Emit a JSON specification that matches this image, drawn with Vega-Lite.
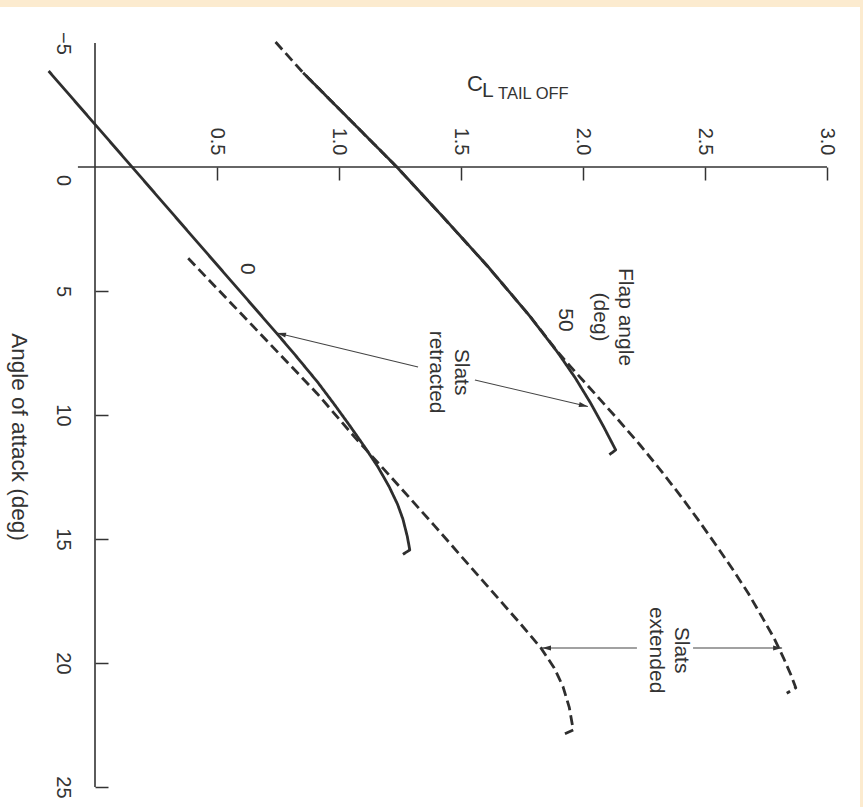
{
  "$schema": "https://vega.github.io/schema/vega-lite/v6.json",
  "width": 860,
  "height": 800,
  "autosize": "none",
  "padding": {"left": 0, "top": 7, "right": 3, "bottom": 0},
  "background": "#fcebcf",
  "config": {
    "view": {"fill": "#ffffff", "stroke": null},
    "font": "Liberation Sans"
  },
  "datasets": {
    "curves": [
      {"curve": "retracted-0", "slats": "retracted", "flap": 0, "i": 0, "alpha": -3.87, "cl": -0.19},
      {"curve": "retracted-0", "slats": "retracted", "flap": 0, "i": 1, "alpha": 0.0, "cl": 0.152},
      {"curve": "retracted-0", "slats": "retracted", "flap": 0, "i": 2, "alpha": 3.23, "cl": 0.437},
      {"curve": "retracted-0", "slats": "retracted", "flap": 0, "i": 3, "alpha": 6.71, "cl": 0.745},
      {"curve": "retracted-0", "slats": "retracted", "flap": 0, "i": 4, "alpha": 7.6, "cl": 0.822},
      {"curve": "retracted-0", "slats": "retracted", "flap": 0, "i": 5, "alpha": 8.67, "cl": 0.912},
      {"curve": "retracted-0", "slats": "retracted", "flap": 0, "i": 6, "alpha": 9.6, "cl": 0.983},
      {"curve": "retracted-0", "slats": "retracted", "flap": 0, "i": 7, "alpha": 10.47, "cl": 1.047},
      {"curve": "retracted-0", "slats": "retracted", "flap": 0, "i": 8, "alpha": 11.3, "cl": 1.106},
      {"curve": "retracted-0", "slats": "retracted", "flap": 0, "i": 9, "alpha": 12.1, "cl": 1.16},
      {"curve": "retracted-0", "slats": "retracted", "flap": 0, "i": 10, "alpha": 12.9, "cl": 1.206},
      {"curve": "retracted-0", "slats": "retracted", "flap": 0, "i": 11, "alpha": 13.6, "cl": 1.24},
      {"curve": "retracted-0", "slats": "retracted", "flap": 0, "i": 12, "alpha": 14.2, "cl": 1.262},
      {"curve": "retracted-0", "slats": "retracted", "flap": 0, "i": 13, "alpha": 14.9, "cl": 1.28},
      {"curve": "retracted-0", "slats": "retracted", "flap": 0, "i": 14, "alpha": 15.44, "cl": 1.29},
      {"curve": "retracted-0", "slats": "retracted", "flap": 0, "i": 15, "alpha": 15.62, "cl": 1.262},

      {"curve": "extended-0", "slats": "extended", "flap": 0, "i": 0, "alpha": 3.68, "cl": 0.382},
      {"curve": "extended-0", "slats": "extended", "flap": 0, "i": 1, "alpha": 6.0, "cl": 0.607},
      {"curve": "extended-0", "slats": "extended", "flap": 0, "i": 2, "alpha": 9.13, "cl": 0.91},
      {"curve": "extended-0", "slats": "extended", "flap": 0, "i": 3, "alpha": 10.9, "cl": 1.065},
      {"curve": "extended-0", "slats": "extended", "flap": 0, "i": 4, "alpha": 12.6, "cl": 1.222},
      {"curve": "extended-0", "slats": "extended", "flap": 0, "i": 5, "alpha": 14.45, "cl": 1.39},
      {"curve": "extended-0", "slats": "extended", "flap": 0, "i": 6, "alpha": 16.1, "cl": 1.537},
      {"curve": "extended-0", "slats": "extended", "flap": 0, "i": 7, "alpha": 18.4, "cl": 1.742},
      {"curve": "extended-0", "slats": "extended", "flap": 0, "i": 8, "alpha": 19.4, "cl": 1.828},
      {"curve": "extended-0", "slats": "extended", "flap": 0, "i": 9, "alpha": 20.2, "cl": 1.882},
      {"curve": "extended-0", "slats": "extended", "flap": 0, "i": 10, "alpha": 20.95, "cl": 1.918},
      {"curve": "extended-0", "slats": "extended", "flap": 0, "i": 11, "alpha": 21.8, "cl": 1.944},
      {"curve": "extended-0", "slats": "extended", "flap": 0, "i": 12, "alpha": 22.7, "cl": 1.96},
      {"curve": "extended-0", "slats": "extended", "flap": 0, "i": 13, "alpha": 22.85, "cl": 1.926},

      {"curve": "retracted-50", "slats": "retracted", "flap": 50, "i": 0, "alpha": -3.8, "cl": 0.853},
      {"curve": "retracted-50", "slats": "retracted", "flap": 50, "i": 1, "alpha": -2.0, "cl": 1.035},
      {"curve": "retracted-50", "slats": "retracted", "flap": 50, "i": 2, "alpha": 0.0, "cl": 1.237},
      {"curve": "retracted-50", "slats": "retracted", "flap": 50, "i": 3, "alpha": 2.0, "cl": 1.425},
      {"curve": "retracted-50", "slats": "retracted", "flap": 50, "i": 4, "alpha": 4.0, "cl": 1.609},
      {"curve": "retracted-50", "slats": "retracted", "flap": 50, "i": 5, "alpha": 6.0, "cl": 1.781},
      {"curve": "retracted-50", "slats": "retracted", "flap": 50, "i": 6, "alpha": 7.5, "cl": 1.898},
      {"curve": "retracted-50", "slats": "retracted", "flap": 50, "i": 7, "alpha": 8.5, "cl": 1.968},
      {"curve": "retracted-50", "slats": "retracted", "flap": 50, "i": 8, "alpha": 9.5, "cl": 2.03},
      {"curve": "retracted-50", "slats": "retracted", "flap": 50, "i": 9, "alpha": 10.5, "cl": 2.086},
      {"curve": "retracted-50", "slats": "retracted", "flap": 50, "i": 10, "alpha": 11.41, "cl": 2.134},
      {"curve": "retracted-50", "slats": "retracted", "flap": 50, "i": 11, "alpha": 11.6, "cl": 2.108},

      {"curve": "extended-50", "slats": "extended", "flap": 50, "i": 0, "alpha": -5.04, "cl": 0.74},
      {"curve": "extended-50", "slats": "extended", "flap": 50, "i": 1, "alpha": -3.8, "cl": 0.853},
      {"curve": "extended-50", "slats": "extended", "flap": 50, "i": 2, "alpha": -2.0, "cl": 1.035},
      {"curve": "extended-50", "slats": "extended", "flap": 50, "i": 3, "alpha": 0.0, "cl": 1.237},
      {"curve": "extended-50", "slats": "extended", "flap": 50, "i": 4, "alpha": 2.0, "cl": 1.425},
      {"curve": "extended-50", "slats": "extended", "flap": 50, "i": 5, "alpha": 4.0, "cl": 1.609},
      {"curve": "extended-50", "slats": "extended", "flap": 50, "i": 6, "alpha": 6.0, "cl": 1.781},
      {"curve": "extended-50", "slats": "extended", "flap": 50, "i": 7, "alpha": 7.5, "cl": 1.9},
      {"curve": "extended-50", "slats": "extended", "flap": 50, "i": 8, "alpha": 8.06, "cl": 1.95},
      {"curve": "extended-50", "slats": "extended", "flap": 50, "i": 9, "alpha": 9.1, "cl": 2.045},
      {"curve": "extended-50", "slats": "extended", "flap": 50, "i": 10, "alpha": 10.2, "cl": 2.145},
      {"curve": "extended-50", "slats": "extended", "flap": 50, "i": 11, "alpha": 11.2, "cl": 2.233},
      {"curve": "extended-50", "slats": "extended", "flap": 50, "i": 12, "alpha": 12.2, "cl": 2.316},
      {"curve": "extended-50", "slats": "extended", "flap": 50, "i": 13, "alpha": 13.2, "cl": 2.395},
      {"curve": "extended-50", "slats": "extended", "flap": 50, "i": 14, "alpha": 14.2, "cl": 2.47},
      {"curve": "extended-50", "slats": "extended", "flap": 50, "i": 15, "alpha": 15.2, "cl": 2.542},
      {"curve": "extended-50", "slats": "extended", "flap": 50, "i": 16, "alpha": 16.2, "cl": 2.612},
      {"curve": "extended-50", "slats": "extended", "flap": 50, "i": 17, "alpha": 17.2, "cl": 2.678},
      {"curve": "extended-50", "slats": "extended", "flap": 50, "i": 18, "alpha": 18.2, "cl": 2.737},
      {"curve": "extended-50", "slats": "extended", "flap": 50, "i": 19, "alpha": 19.0, "cl": 2.783},
      {"curve": "extended-50", "slats": "extended", "flap": 50, "i": 20, "alpha": 19.8, "cl": 2.822},
      {"curve": "extended-50", "slats": "extended", "flap": 50, "i": 21, "alpha": 20.5, "cl": 2.853},
      {"curve": "extended-50", "slats": "extended", "flap": 50, "i": 22, "alpha": 21.0, "cl": 2.872},
      {"curve": "extended-50", "slats": "extended", "flap": 50, "i": 23, "alpha": 21.22, "cl": 2.835}
    ],
    "frame": [
      {"cl": -0.07, "cl2": 3.0, "alpha": 0, "alpha2": 0},
      {"cl": 0, "cl2": 0, "alpha": -5, "alpha2": 25}
    ],
    "arrows": [
      {"note": "Slats retracted", "cl": 0.746, "alpha": 6.694, "cl2": 1.324, "alpha2": 8.065},
      {"note": "Slats retracted", "cl": 2.02, "alpha": 9.66, "cl2": 1.557, "alpha2": 8.589},
      {"note": "Slats extended", "cl": 2.816, "alpha": 19.395, "cl2": 2.451, "alpha2": 19.395},
      {"note": "Slats extended", "cl": 1.832, "alpha": 19.395, "cl2": 2.221, "alpha2": 19.395}
    ],
    "notes": [
      {"role": "curve", "text": "0", "cl": 0.623, "alpha": 4.11},
      {"role": "curve", "text": "50", "cl": 1.926, "alpha": 6.17},
      {"role": "note", "text": "Flap angle\n(deg)", "cl": 2.172, "alpha": 6.05},
      {"role": "note", "text": "Slats\nretracted", "cl": 1.5, "alpha": 8.27},
      {"role": "note", "text": "Slats\nextended", "cl": 2.401, "alpha": 19.48},
      {"role": "ytitle", "text": "Angle of attack (deg)", "cl": -0.3115, "alpha": 10.89},
      {"role": "c", "text": "C", "cl": 1.5246, "alpha": -3.065},
      {"role": "sub", "text": "L", "cl": 1.586, "alpha": -2.823},
      {"role": "sub2", "text": "TAIL OFF", "cl": 1.652, "alpha": -2.742}
    ]
  },
  "encoding": {
    "x": {
      "field": "cl", "type": "quantitative",
      "scale": {"domain": [-0.38934, 3.13525], "nice": false, "zero": false},
      "axis": {
        "orient": "top", "offset": -160, "values": [0.5, 1, 1.5, 2, 2.5, 3], "format": ".1f",
        "domain": false, "grid": false, "tickSize": -13, "tickColor": "#333333", "tickWidth": 1.5,
        "labelAngle": 90, "labelAlign": "right", "labelBaseline": "middle", "labelPadding": 25,
        "labelFontSize": 20, "labelColor": "#333333", "labelFont": "Liberation Sans",
        "labelOverlap": false, "labelFlush": false, "labelBound": false, "title": null
      }
    },
    "y": {
      "field": "alpha", "type": "quantitative",
      "scale": {"domain": [-6.4516, 25.8065], "nice": false, "zero": false, "reverse": true},
      "axis": {
        "orient": "left", "offset": -95, "values": [-5, 0, 5, 10, 15, 20, 25],
        "labelExpr": "datum.value < 0 ? '−' + abs(datum.value) : datum.label",
        "domain": false, "grid": false, "tickSize": -13, "tickColor": "#333333", "tickWidth": 1.5,
        "tickOpacity": {"condition": {"test": "datum.value <= 0", "value": 0}, "value": 1},
        "labelAngle": 90, "labelAlign": "center", "labelBaseline": "top", "labelPadding": 36,
        "labelOffset": {"condition": {"test": "datum.value === 0", "value": 13}, "value": 0},
        "labelFontSize": 20, "labelColor": "#333333", "labelFont": "Liberation Sans",
        "labelOverlap": false, "labelFlush": false, "labelBound": false, "title": null
      }
    }
  },
  "layer": [
    {
      "data": {"name": "frame"},
      "mark": {"type": "rule", "color": "#333333", "strokeWidth": 1.6},
      "encoding": {
        "x2": {"field": "cl2"},
        "y2": {"field": "alpha2"}
      }
    },
    {
      "data": {"name": "curves"},
      "mark": {"type": "line", "color": "#2e2e2e", "strokeWidth": 2.8, "strokeJoin": "round", "strokeCap": "butt"},
      "encoding": {
        "detail": {"field": "curve", "type": "nominal"},
        "order": {"field": "i", "type": "quantitative"},
        "strokeDash": {
          "field": "slats", "type": "nominal",
          "scale": {"domain": ["retracted", "extended"], "range": [[1, 0], [10, 5]]},
          "legend": null
        }
      }
    },
    {
      "data": {"name": "arrows"},
      "mark": {"type": "rule", "color": "#444444", "strokeWidth": 1.1},
      "encoding": {
        "x2": {"field": "cl2"},
        "y2": {"field": "alpha2"}
      }
    },
    {
      "data": {"name": "arrows"},
      "transform": [
        {"calculate": "atan2((datum.alpha - datum.alpha2) * 24.8, (datum.cl - datum.cl2) * 244) * 180 / PI", "as": "heading"}
      ],
      "mark": {"type": "point", "shape": "M0,0L-2,-0.55L-2,0.55Z", "filled": true, "size": 81, "color": "#333333", "opacity": 1, "strokeWidth": 0},
      "encoding": {
        "angle": {"field": "heading", "type": "quantitative", "scale": null}
      }
    },
    {
      "data": {"name": "notes"},
      "transform": [{"filter": "datum.role === 'curve' || datum.role === 'note'"}],
      "mark": {"type": "text", "angle": 90, "align": "center", "baseline": "middle", "fontSize": 21, "lineBreak": "\n", "lineHeight": 25, "color": "#333333", "font": "Liberation Sans"},
      "encoding": {
        "text": {"field": "text", "type": "nominal"}
      }
    },
    {
      "data": {"name": "notes"},
      "transform": [{"filter": "datum.role === 'ytitle'"}],
      "mark": {"type": "text", "angle": 90, "align": "center", "baseline": "middle", "fontSize": 22.5, "color": "#333333", "font": "Liberation Sans"},
      "encoding": {
        "text": {"field": "text", "type": "nominal"}
      }
    },
    {
      "data": {"name": "notes"},
      "transform": [{"filter": "datum.role === 'c'"}],
      "mark": {"type": "text", "align": "left", "baseline": "alphabetic", "fontSize": 22, "color": "#333333", "font": "Liberation Sans"},
      "encoding": {
        "text": {"field": "text", "type": "nominal"}
      }
    },
    {
      "data": {"name": "notes"},
      "transform": [{"filter": "datum.role === 'sub'"}],
      "mark": {"type": "text", "align": "left", "baseline": "alphabetic", "fontSize": 21, "color": "#333333", "font": "Liberation Sans"},
      "encoding": {
        "text": {"field": "text", "type": "nominal"}
      }
    },
    {
      "data": {"name": "notes"},
      "transform": [{"filter": "datum.role === 'sub2'"}],
      "mark": {"type": "text", "align": "left", "baseline": "alphabetic", "fontSize": 16.5, "color": "#333333", "font": "Liberation Sans"},
      "encoding": {
        "text": {"field": "text", "type": "nominal"}
      }
    }
  ]
}
